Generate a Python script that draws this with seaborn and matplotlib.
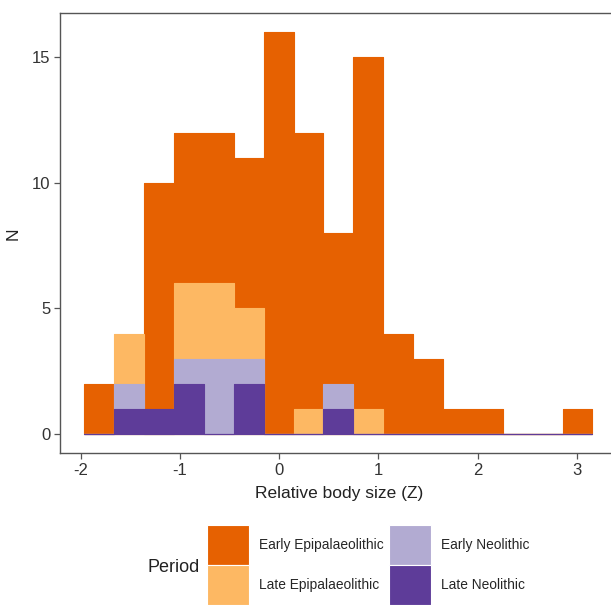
import numpy as np
import pandas as pd
import matplotlib
matplotlib.use('Agg')
import matplotlib.pyplot as plt
from matplotlib.patches import Patch
import seaborn as sns

# counts per bin
bin_edges = np.linspace(-1.964, 3.158, 18).tolist()
early_epi = [2, 2, 10, 12, 12, 11, 16, 12, 8, 15, 4, 3, 1, 1, 0, 0, 1]
late_epi = [0, 4, 0, 6, 6, 5, 0, 1, 0, 1, 0, 0, 0, 0, 0, 0, 0]
early_neo = [0, 2, 0, 3, 3, 3, 0, 0, 2, 0, 0, 0, 0, 0, 0, 0, 0]
late_neo = [0, 1, 1, 2, 0, 2, 0, 0, 1, 0, 0, 0, 0, 0, 0, 0, 0]

periods = ['Early Epipalaeolithic', 'Late Epipalaeolithic', 'Early Neolithic', 'Late Neolithic']
colors = ['#E66101', '#FDB863', '#B2ABD2', '#5E3C99']
y_ticks = [0, 5, 10, 15]
x_ticks = [-2, -1, 0, 1, 2, 3]

centers = [(a + b) / 2 for a, b in zip(bin_edges[:-1], bin_edges[1:])]
rows = []
for period, counts in zip(periods, [early_epi, late_epi, early_neo, late_neo]):
    for c, n in zip(centers, counts):
        rows.append({'z': c, 'n': n, 'Period': period})
df = pd.DataFrame(rows)

sns.set_style('white')
plt.rcParams['font.family'] = ['Liberation Sans', 'DejaVu Sans']

fig = plt.figure(figsize=(6.11, 6.05), dpi=100)
ax = fig.add_axes([0.0982, 0.2507, 0.913, 0.7273])

# first hue level is drawn last (on top) in layer mode
sns.histplot(data=df, x='z', weights='n', hue='Period', bins=bin_edges,
             hue_order=periods[::-1], palette=dict(zip(periods, colors)),
             element='step', multiple='layer', fill=True, alpha=1,
             linewidth=0.8, legend=False, ax=ax)

ax.set_xlim(-2.209, 3.414)
ax.set_ylim(-0.77, 16.76)
ax.set_xticks(x_ticks)
ax.set_xticklabels(['-2', '-1', '0', '1', '2', '3'])
ax.set_yticks(y_ticks)
ax.set_xlabel('Relative body size (Z)', fontsize=12.5, color='#222222', labelpad=6)
ax.set_ylabel('N', fontsize=12.5, color='#222222', labelpad=8)
ax.tick_params(axis='both', length=4, width=0.9, color='#555555', labelsize=12,
               labelcolor='#333333', pad=3, bottom=True, left=True)
for s in ax.spines.values():
    s.set_color('#555555')
    s.set_linewidth(1.0)

handles = [Patch(facecolor=c, edgecolor='white', linewidth=0.8) for c in colors]
fig.legend(handles, periods, ncol=2, loc='upper left', bbox_to_anchor=(0.3388, 0.132),
           frameon=False, fontsize=9.9, handlelength=3.08, handleheight=4.05,
           handletextpad=0.72, labelspacing=0.05, columnspacing=0.35,
           borderpad=0, borderaxespad=0)
fig.text(0.242, 0.0628, 'Period', fontsize=13, color='#222222', ha='left', va='center')

fig.savefig('out.png', dpi=100)
